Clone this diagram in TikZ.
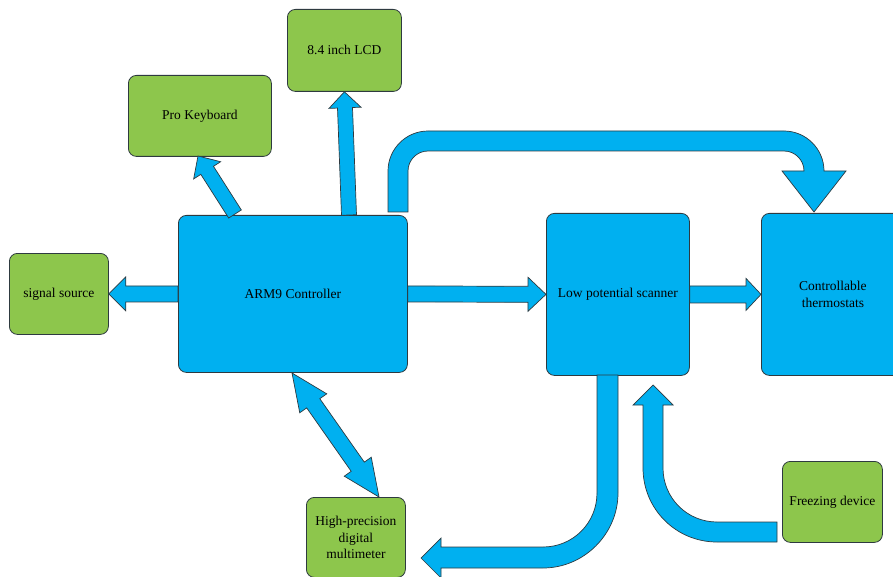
\documentclass[tikz,border=0pt]{standalone}
\usepackage{fontspec}
\setmainfont{Liberation Serif}
\usetikzlibrary{calc}
\definecolor{cblue}{HTML}{00B0F0}
\definecolor{cgreen}{HTML}{8DC64C}
\definecolor{cline}{HTML}{2E3A40}
\tikzset{
  boxbase/.style={draw=cline, line width=0.8pt, rounded corners=8pt, inner sep=0pt,
    align=center, font=\fontsize{13.5}{16.7}\selectfont, anchor=north west},
  bluebox/.style={boxbase, fill=cblue},
  greenbox/.style={boxbase, fill=cgreen},
  arr/.style={draw=cline, line width=0.7pt, fill=cblue, line join=miter},
}
% #1 start, #2 end, #3 shaft half width, #4 head half width, #5 head length
\newcommand\blockarrow[5]{%
  \coordinate (ba-h) at ($(#2)!#5!(#1)$);
  \draw[arr] ($(#1)!#3!90:(#2)$) -- ($(ba-h)!#3!90:(#2)$) -- ($(ba-h)!#4!90:(#2)$)
    -- (#2) -- ($(ba-h)!#4!-90:(#2)$) -- ($(ba-h)!#3!-90:(#2)$) -- ($(#1)!#3!-90:(#2)$) -- cycle;}
\newcommand\blockarrowboth[5]{%
  \coordinate (ba-a) at ($(#1)!#5!(#2)$);
  \coordinate (ba-b) at ($(#2)!#5!(#1)$);
  \draw[arr] (#1) -- ($(ba-a)!#4!90:(#2)$) -- ($(ba-a)!#3!90:(#2)$) -- ($(ba-b)!#3!90:(#2)$)
    -- ($(ba-b)!#4!90:(#2)$) -- (#2) -- ($(ba-b)!#4!-90:(#2)$) -- ($(ba-b)!#3!-90:(#2)$)
    -- ($(ba-a)!#3!-90:(#2)$) -- ($(ba-a)!#4!-90:(#2)$) -- cycle;}
\begin{document}
\begin{tikzpicture}[x=1pt, y=-1pt]
\useasboundingbox (0,0) rectangle (893,577);
% boxes
\node[bluebox, minimum width=229pt, minimum height=157pt] (arm) at (178,215) {ARM9 Controller};
\node[bluebox, minimum width=143pt, minimum height=162pt] (lps) at (546,213) {Low potential scanner};
\node[bluebox, minimum width=143pt, minimum height=162pt] (thermo) at (761,213) {Controllable\\thermostats};
\node[greenbox, minimum width=99pt, minimum height=81pt] (sig) at (9,253) {signal source};
\node[greenbox, minimum width=143pt, minimum height=81pt] (kb) at (128,75) {Pro Keyboard};
\node[greenbox, minimum width=114pt, minimum height=82pt] (lcd) at (287,9) {8.4 inch LCD};
\node[greenbox, minimum width=99pt, minimum height=80pt] (mult) at (306,497) {High-precision\\digital\\multimeter};
\node[greenbox, minimum width=100pt, minimum height=81pt] (frz) at (782,461) {Freezing device};
% coordinates for arrow ends
\coordinate (lcdfoot) at (349,215);
\coordinate (kbfoot) at (235,214);
\coordinate (kbtip) at (198,156);
\coordinate (multA) at (292,373);
\coordinate (multB) at (379,497);
% straight arrows
\blockarrow{arm.west}{sig.east}{8pt}{17pt}{17pt}
\blockarrow{arm.east}{lps.west}{8pt}{17pt}{18pt}
\blockarrow{lps.east}{thermo.west}{8.5pt}{16pt}{15pt}
\blockarrow{lcdfoot}{lcd.south}{7.5pt}{16pt}{16pt}
\blockarrow{kbfoot}{kbtip}{7.5pt}{16pt}{17pt}
\blockarrowboth{multA}{multB}{8pt}{16.5pt}{37pt}
% curved arrow ARM9 -> thermostats
\draw[arr] (388,212) -- (388,171) .. controls (388,149) and (406,131) .. (428,131)
  -- (784,131) .. controls (806,131) and (824,149) .. (824,171)
  -- (846,171) -- (814,212) -- (782,171) -- (804,171)
  .. controls (804,160) and (795,151) .. (784,151)
  -- (428,151) .. controls (417,151) and (408,160) .. (408,171) -- (408,212) -- cycle;
% curved arrow scanner -> multimeter
\draw[arr] (597,375) -- (618,375) -- (618,493) .. controls (618,534) and (584,568) .. (543,568)
  -- (441,568) -- (441,578) -- (421,558) -- (441,538) -- (441,547) -- (543,547)
  .. controls (573,547) and (597,523) .. (597,493) -- cycle;
% curved arrow freezing -> scanner
\draw[arr] (777,522) -- (777,542) -- (717,542) .. controls (676,542) and (643,509) .. (643,468)
  -- (643,405) -- (633,405) -- (653,385) -- (673,405) -- (663,405) -- (663,468)
  .. controls (663,498) and (687,522) .. (717,522) -- cycle;
\end{tikzpicture}
\end{document}
